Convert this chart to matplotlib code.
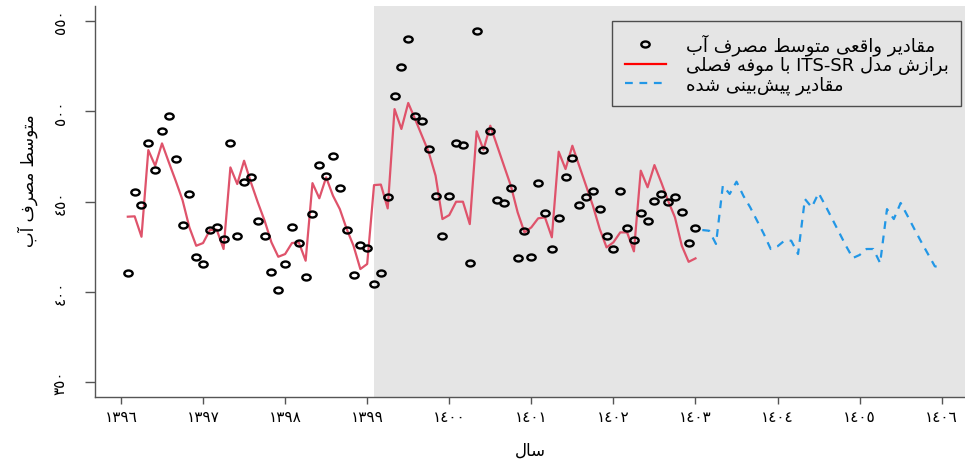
import numpy as np
import matplotlib
matplotlib.use("Agg")
import matplotlib.pyplot as plt
from matplotlib.lines import Line2D
from matplotlib.path import Path

# monthly average water use, observed (1396/2 .. 1403/1)
observed = [
    410.2, 455.1, 448.2, 482.4, 467.5, 489.2, 497.4, 473.4, 437.0, 454.2, 419.1, 415.2,
    434.2, 436.0, 429.1, 482.4, 431.1, 461.0, 463.4, 439.2, 431.1, 411.1, 401.0, 415.2,
    436.0, 427.0, 408.3, 443.2, 470.1, 464.3, 475.2, 457.5, 434.2, 409.3, 426.1, 424.2,
    404.3, 410.2, 452.7, 508.4, 524.3, 540.2, 497.4, 494.4, 479.3, 453.2, 431.1, 453.2,
    482.4, 481.1, 416.1, 544.3, 478.4, 488.9, 451.0, 449.2, 457.5, 418.5, 433.5, 419.3,
    460.2, 443.5, 423.5, 440.9, 463.4, 474.3, 448.2, 452.3, 456.0, 446.0, 431.1, 423.5,
    456.0, 435.2, 428.5, 443.5, 439.2, 450.1, 454.3, 449.6, 452.5, 444.3, 427.0, 435.2,
]

# ITS-SR fit with seasonal component
fitted = [
    441.6, 441.8, 430.5, 478.5, 469.8, 482.2, 471.7, 461.5, 450.8, 435.7, 425.5, 427.0,
    434.2, 434.4, 423.7, 468.9, 459.7, 472.6, 460.6, 449.6, 439.4, 427.4, 419.4, 420.9,
    427.0, 427.4, 417.2, 460.2, 451.8, 463.4, 453.2, 445.8, 434.8, 425.5, 412.6, 415.4,
    459.1, 459.4, 446.2, 501.2, 490.2, 504.6, 495.7, 486.5, 477.3, 464.3, 440.3, 442.5,
    449.9, 449.9, 437.5, 488.9, 478.7, 492.0, 480.9, 469.8, 458.8, 444.0, 432.9, 435.7,
    440.7, 441.2, 430.2, 477.6, 468.0, 480.9, 469.8, 458.8, 447.7, 434.8, 424.6, 427.4,
    432.9, 432.9, 422.4, 467.1, 457.9, 470.2, 460.6, 450.4, 441.2, 425.5, 416.6, 418.5,
]

# forecast (1403/2 .. 1406/1)
forecast = [
    434.2, 433.8, 426.5, 458.8, 454.2, 461.0, 453.2, 446.8, 439.4, 432.0, 423.7, 425.2,
    428.3, 428.3, 420.9, 451.4, 446.8, 454.7, 447.7, 440.3, 432.9, 425.5, 418.7, 420.4,
    423.7, 423.7, 415.9, 445.8, 440.3, 449.2, 442.1, 434.8, 427.7, 420.9, 414.1, 413.5,
]

x_ticks = [1396, 1397, 1398, 1399, 1400, 1401, 1402, 1403, 1404, 1405, 1406]
x_tick_labels = ["١٣٩٦", "١٣٩٧", "١٣٩٨", "١٣٩٩", "١٤٠٠", "١٤٠١",
                 "١٤٠٢", "١٤٠٣", "١٤٠٤", "١٤٠٥", "١٤٠٦"]
y_ticks = [350, 400, 450, 500, 550]
y_tick_labels = ["٣٥٠", "٤٠٠", "٤٥٠", "٥٠٠", "٥٥٠"]

legend_labels = ["مقادیر واقعی متوسط مصرف آب",
                 "برازش مدل ITS-SR با موفه فصلی",
                 "مقادیر پیش‌بینی شده"]
y_title = "متوسط مصرف آب"
x_title = "سال"

start_year = 1396
intervention = 1399 + 1 / 12

# presentation forms: isolated, final, initial, medial
FORMS = {
    "ا": ("\uFE8D", "\uFE8E", None, None),
    "آ": ("\uFE81", "\uFE82", None, None),
    "د": ("\uFEA9", "\uFEAA", None, None),
    "ر": ("\uFEAD", "\uFEAE", None, None),
    "ز": ("\uFEAF", "\uFEB0", None, None),
    "و": ("\uFEED", "\uFEEE", None, None),
    "ب": ("\uFE8F", "\uFE90", "\uFE91", "\uFE92"),
    "پ": ("\uFB56", "\uFB57", "\uFB58", "\uFB59"),
    "ت": ("\uFE95", "\uFE96", "\uFE97", "\uFE98"),
    "س": ("\uFEB1", "\uFEB2", "\uFEB3", "\uFEB4"),
    "ش": ("\uFEB5", "\uFEB6", "\uFEB7", "\uFEB8"),
    "ص": ("\uFEB9", "\uFEBA", "\uFEBB", "\uFEBC"),
    "ط": ("\uFEC1", "\uFEC2", "\uFEC3", "\uFEC4"),
    "ع": ("\uFEC9", "\uFECA", "\uFECB", "\uFECC"),
    "ف": ("\uFED1", "\uFED2", "\uFED3", "\uFED4"),
    "ق": ("\uFED5", "\uFED6", "\uFED7", "\uFED8"),
    "ل": ("\uFEDD", "\uFEDE", "\uFEDF", "\uFEE0"),
    "م": ("\uFEE1", "\uFEE2", "\uFEE3", "\uFEE4"),
    "ن": ("\uFEE5", "\uFEE6", "\uFEE7", "\uFEE8"),
    "ه": ("\uFEE9", "\uFEEA", "\uFEEB", "\uFEEC"),
    "ی": ("\uFBFC", "\uFBFD", "\uFBFE", "\uFBFF"),
}


def shape_word(word):
    out = []
    for i, c in enumerate(word):
        if c not in FORMS:
            out.append(c)
            continue
        iso, fin, ini, med = FORMS[c]
        prev = word[i - 1] if i > 0 else None
        nxt = word[i + 1] if i + 1 < len(word) else None
        join_prev = prev in FORMS and FORMS[prev][2] is not None
        join_next = ini is not None and nxt in FORMS
        if join_prev and join_next:
            out.append(med)
        elif join_prev:
            out.append(fin)
        elif join_next:
            out.append(ini)
        else:
            out.append(iso)
    return "".join(reversed(out)).replace("\u200c", "")


def fa(text):
    # shape every Persian word, then lay the words out right to left
    words = []
    for w in text.split(" "):
        if any("\u0600" <= c <= "\u06ff" for c in w):
            words.append(shape_word(w))
        else:
            words.append(w)
    return " ".join(reversed(words))


t_obs = start_year + np.arange(1, len(observed) + 1) / 12
t_fc = start_year + np.arange(len(observed) + 1, len(observed) + len(forecast) + 1) / 12

# small flat "o" like R's pch="o"
circ = Path.unit_circle()
o_marker = Path(circ.vertices * [1.0, 0.72], circ.codes)

plt.rcParams["font.family"] = ["DejaVu Sans"]

fig = plt.figure(figsize=(9.65, 4.64), dpi=100)
ax = fig.add_axes([0.0984, 0.1422, 0.9016, 0.8434])

ax.axvspan(intervention, 1410, color="#E5E5E5", lw=0, zorder=0)
ax.plot(t_obs, fitted, color="#DF536B", lw=1.6, zorder=2)
ax.plot(t_obs, observed, ls="none", marker=o_marker, ms=6, mfc="none",
        mec="black", mew=1.7, zorder=3)
dash = (0, (3.5, 3))
ax.plot(t_fc, forecast, color="#2297E6", lw=1.6, ls=dash, zorder=2)

ax.set_xlim(1395.683, 1406.284)
ax.set_ylim(341.7, 558.5)

for s in ["top", "right"]:
    ax.spines[s].set_visible(False)
for s in ["left", "bottom"]:
    ax.spines[s].set_color("#555555")
    ax.spines[s].set_linewidth(1.0)

ax.set_xticks(x_ticks)
ax.set_xticklabels(x_tick_labels)
ax.set_yticks(y_ticks)
ax.set_yticklabels(y_tick_labels, rotation=90, va="center")
ax.tick_params(axis="x", length=5, width=1, color="#555555", pad=3.5, labelsize=11)
ax.tick_params(axis="y", length=7.5, width=1, color="#555555", pad=12, labelsize=11)

ax.set_xlabel(fa(x_title), fontsize=12, labelpad=12)
ax.set_ylabel(fa(y_title), fontsize=12)
ax.yaxis.set_label_coords(-0.066, 0.555)

handles = [
    Line2D([], [], ls="none", marker=o_marker, ms=6, mfc="none", mec="black", mew=1.7),
    Line2D([], [], color="red", lw=1.6),
    Line2D([], [], color="#2297E6", lw=1.6, ls=dash),
]
leg = ax.legend(handles, [fa(s) for s in legend_labels], loc="upper right",
                bbox_to_anchor=(0.9954, 0.961), borderaxespad=0,
                frameon=True, fancybox=False,
                edgecolor="#4d4d4d", facecolor="#E5E5E5", framealpha=1,
                fontsize=13, handlelength=2.3, handletextpad=1.1,
                borderpad=0.68, labelspacing=0.05)
leg.get_frame().set_linewidth(1.0)

fig.savefig("out.png", dpi=100)
